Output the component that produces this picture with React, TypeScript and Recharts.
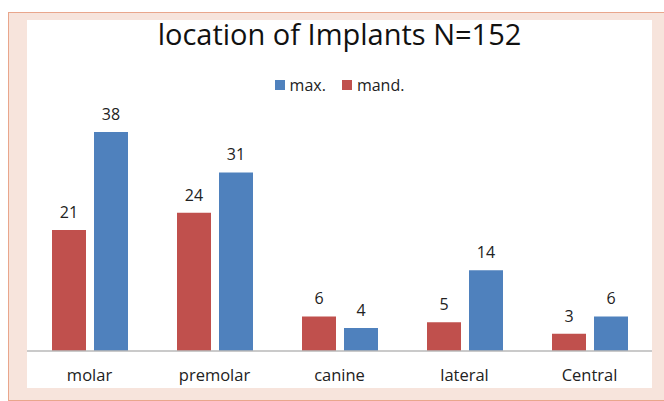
import React from 'react';
import { BarChart, Bar, XAxis, YAxis, LabelList } from 'recharts';

const categories = ['molar', 'premolar', 'canine', 'lateral', 'Central'];
const mandValues = [21, 24, 6, 5, 3];
const maxValues = [38, 31, 4, 14, 6];
const seriesNames = { mand: 'mand.', max: 'max.' };
const chartTitle = 'location of Implants N=152';

const RED = '#c0504d';
const BLUE = '#4f81bd';
const FONT = '"Open Sans", "Noto Sans", sans-serif';

const data = categories.map((name, i) => ({ name, mand: mandValues[i], max: maxValues[i] }));

const legendItems = [
  { label: seriesNames.max, color: BLUE },
  { label: seriesNames.mand, color: RED },
];

const App: React.FC = () => {
  return (
    <div style={{ position: 'absolute', left: 0, top: 0, width: 664, height: 401, overflow: 'hidden', background: '#fff' }}>
      {/* pink frame */}
      <div
        style={{
          position: 'absolute',
          left: 8,
          top: 12,
          width: 670,
          height: 387,
          background: '#f7e4dc',
          border: '1px solid #e9a68c',
        }}
      />
      {/* white chart area */}
      <div style={{ position: 'absolute', left: 27, top: 20, width: 625, height: 368, background: '#fff' }}>
        <div
          style={{
            position: 'absolute',
            left: 0,
            top: -1,
            width: 625,
            textAlign: 'center',
            fontFamily: FONT,
            fontSize: 29,
            color: '#111',
            lineHeight: '30px',
            whiteSpace: 'nowrap',
          }}
        >
          {chartTitle}
        </div>
        <div
          style={{
            position: 'absolute',
            left: 0,
            top: 56,
            width: 625,
            display: 'flex',
            justifyContent: 'center',
            fontFamily: FONT,
            fontSize: 16,
            color: '#222',
            lineHeight: '18px',
          }}
        >
          {legendItems.map((item) => (
            <span key={item.label} style={{ display: 'flex', alignItems: 'center', margin: '0 8px' }}>
              <span style={{ width: 10, height: 10, background: item.color, marginRight: 5, display: 'inline-block' }} />
              {item.label}
            </span>
          ))}
        </div>
        <div style={{ position: 'absolute', left: 0, top: 0 }}>
          <BarChart
            width={625}
            height={368}
            data={data}
            margin={{ top: 100.6, right: 0, bottom: 0, left: 0 }}
            barGap={8}
            barCategoryGap="20%"
          >
            <XAxis
              dataKey="name"
              height={37}
              tickLine={false}
              axisLine={{ stroke: '#b8b8b8', strokeWidth: 1.5 }}
              tick={{ fill: '#222', fontSize: 16.5, fontFamily: FONT }}
              tickMargin={12}
              interval={0}
            />
            <YAxis hide domain={[0, 40]} />
            <Bar dataKey="mand" name={seriesNames.mand} fill={RED} isAnimationActive={false}>
              <LabelList dataKey="mand" position="top" offset={12} fill="#222" fontSize={16} fontFamily={FONT} />
            </Bar>
            <Bar dataKey="max" name={seriesNames.max} fill={BLUE} isAnimationActive={false}>
              <LabelList dataKey="max" position="top" offset={12} fill="#222" fontSize={16} fontFamily={FONT} />
            </Bar>
          </BarChart>
        </div>
      </div>
    </div>
  );
};

export default App;
